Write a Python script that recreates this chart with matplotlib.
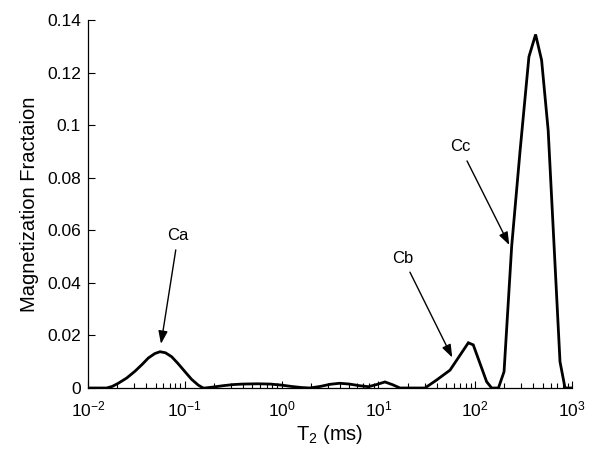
import numpy as np
import matplotlib
matplotlib.use("Agg")
import matplotlib.pyplot as plt
from matplotlib.ticker import FixedLocator, LogLocator, NullFormatter

plt.rcParams['font.family'] = ['Liberation Sans', 'DejaVu Sans']
plt.rcParams['mathtext.fontset'] = 'custom'
plt.rcParams['mathtext.rm'] = 'Liberation Sans'
plt.rcParams['mathtext.it'] = 'Liberation Sans'

# log10(T2 / ms) sample positions and magnetization fraction values
log_t2 = [-2.0, -1.807, -1.75, -1.687, -1.60, -1.514, -1.44, -1.377, -1.31, -1.256,
          -1.20, -1.136, -1.07, -0.998, -0.93, -0.861, -0.81, -0.79, -0.70, -0.60,
          -0.50, -0.40, -0.25, -0.12, 0.0, 0.10, 0.20, 0.29, 0.40, 0.50,
          0.60, 0.70, 0.80, 0.896, 0.98, 1.068, 1.15, 1.223, 1.481, 1.60,
          1.74, 1.929, 1.98, 2.118, 2.17, 2.24, 2.298, 2.377, 2.463, 2.555,
          2.624, 2.686, 2.754, 2.876, 2.928, 3.0]
fraction = [0, 0, 0.0006, 0.0018, 0.0038, 0.0064, 0.0090, 0.0114, 0.0131, 0.0138,
            0.0134, 0.0119, 0.0093, 0.0062, 0.0033, 0.0011, 0, 0, 0.0004, 0.0009,
            0.0013, 0.0015, 0.0016, 0.0015, 0.0011, 0.0006, 0.0002, 0, 0.0006, 0.0014,
            0.0018, 0.0015, 0.0009, 0.0005, 0.0013, 0.0023, 0.0012, 0, 0, 0.0030,
            0.0068, 0.0172, 0.0164, 0.0024, 0, 0, 0.0062, 0.054, 0.090, 0.126,
            0.1345, 0.1247, 0.098, 0.010, 0, 0]

t2_ms = [10 ** v for v in log_t2]

# annotations: label, arrow tip (T2, value), text position (T2, value)
ann_labels = ["Ca", "Cb", "Cc"]
ann_tip = [(10 ** -1.246, 0.0168), (10 ** 1.763, 0.0116), (10 ** 2.352, 0.0544)]
ann_text = [(10 ** -1.07, 0.0580), (10 ** 1.254, 0.0494), (10 ** 1.843, 0.0917)]

yticks = [0, 0.02, 0.04, 0.06, 0.08, 0.1, 0.12, 0.14]
ytick_labels = ["0", "0.02", "0.04", "0.06", "0.08", "0.1", "0.12", "0.14"]

fig = plt.figure(figsize=(6.0, 4.61), dpi=100)
ax = fig.add_axes([88/600, 1 - 388/461, (572-88)/600, (388-20)/461])

ax.plot(t2_ms, fraction, color='black', lw=2.0, solid_joinstyle='miter')
ax.set_xscale('log')
ax.set_xlim(1e-2, 1e3)
ax.set_ylim(0, 0.14)

ax.set_yticks(yticks)
ax.set_yticklabels(ytick_labels)
ax.xaxis.set_major_locator(FixedLocator([1e-2, 1e-1, 1e0, 1e1, 1e2, 1e3]))
ax.set_xticklabels([r'$10^{-2}$', r'$10^{-1}$', r'$10^{0}$', r'$10^{1}$', r'$10^{2}$', r'$10^{3}$'])
ax.xaxis.set_minor_locator(LogLocator(base=10, subs=np.arange(2, 10), numticks=20))
ax.xaxis.set_minor_formatter(NullFormatter())

ax.tick_params(axis='both', which='major', direction='in', length=5, width=0.8,
               labelsize=12.5)
ax.tick_params(axis='x', which='major', pad=8)
ax.tick_params(axis='y', which='major', pad=5)
ax.tick_params(axis='x', which='minor', direction='in', length=3.5, width=0.8)
ax.tick_params(axis='y', which='minor', left=False)

for s in ['top', 'right']:
    ax.spines[s].set_visible(False)
for s in ['left', 'bottom']:
    ax.spines[s].set_linewidth(0.9)

ax.set_xlabel(r'T$_2$ (ms)', fontsize=14.5, labelpad=3)
ax.set_ylabel('Magnetization Fractaion', fontsize=14.5, labelpad=6)

for lab, tip, txt in zip(ann_labels, ann_tip, ann_text):
    ax.annotate(lab, xy=tip, xytext=txt, ha='center', va='center', fontsize=12,
                arrowprops=dict(arrowstyle='-|>,head_length=0.55,head_width=0.2',
                                color='black', lw=1.0, shrinkA=3, shrinkB=0,
                                mutation_scale=14))

fig.savefig('out.png', dpi=100)
